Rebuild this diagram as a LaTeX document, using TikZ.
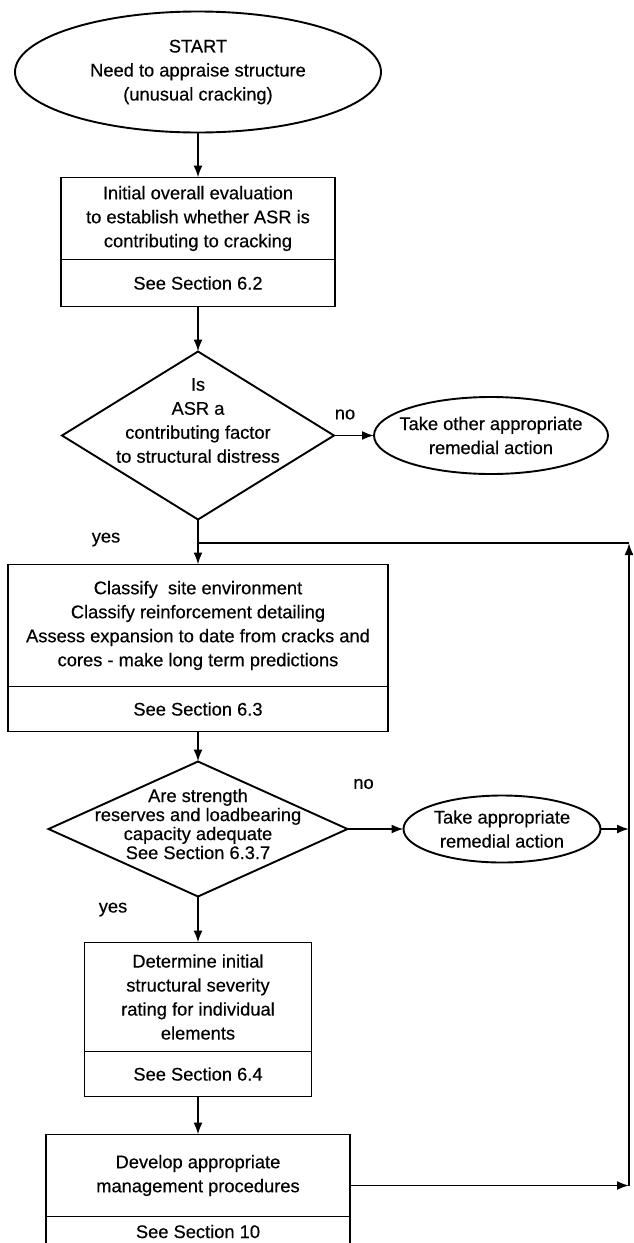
\documentclass[tikz,border=0pt]{standalone}
\usepackage{fontspec}
\setmainfont{Liberation Sans}[FakeBold=0.4]
\usetikzlibrary{arrows.meta,shapes,positioning}

\begin{document}
\begin{tikzpicture}[
    x=1pt, y=1pt,
    >={Latex[length=12pt,width=9pt]},
    line width=1.9pt,
    node distance=45pt,
    font=\fontsize{18.3}{24}\selectfont,
    align=center
  ]

  \tikzstyle{decision} = [diamond, draw, inner sep=0, outer sep=0]
  \tikzstyle{dtext} = [inner sep=0]
  \tikzstyle{block} = [rectangle, draw, inner sep=3pt, outer sep=0]
  \tikzstyle{sect} = [rectangle, draw, inner sep=2pt, outer sep=0]
  \tikzstyle{cloud} = [draw, ellipse, inner sep=-15pt, outer sep=0]
  \tikzstyle{lbl} = [inner sep=0]

  \useasboundingbox (0,0) rectangle (634,-1243);

  \node [cloud, minimum width=366pt, minimum height=121pt] (start) at (198,-72) {START\\Need to appraise structure\\(unusual cracking)};

  \node [block, below=of start, minimum width=274pt, minimum height=82pt] (box1) {Initial overall evaluation\\to establish whether ASR is\\contributing to cracking};
  \node [sect, below=0pt of box1, minimum width=274pt, minimum height=47pt] (box1s) {See Section 6.2};

  \node [decision, below=of box1s, minimum width=272pt, minimum height=168pt] (dec1) {};
  \node [dtext] (dec1txt) at ([yshift=15pt]dec1.center) {Is\\ASR a\\contributing factor\\to structural distress};
  \node [cloud, right=40pt of dec1, minimum width=234pt, minimum height=77pt] (ell2) {Take other appropriate\\remedial action};

  \path[->] (start.south) edge (box1.north);
  \path[->] (box1s.south) edge (dec1.north);
  \path[->] (dec1.east) edge (ell2.west);
  \node [lbl] (no1) at ([xshift=11pt,yshift=21pt]dec1.east) {no};

  \node [block, below=of dec1, minimum width=380pt, minimum height=122pt] (box3) {Classify\ \ site environment\\Classify reinforcement detailing\\Assess expansion to date from cracks and\\cores - make long term predictions};
  \node [sect, below=0pt of box3, minimum width=380pt, minimum height=45pt] (box3s) {See Section 6.3};
  \node [lbl] (yes1) at ([xshift=-92pt,yshift=-20pt]dec1.south) {yes};

  \path[->] (dec1.south) edge (box3.north);

  \node [decision, below=30pt of box3s, minimum width=299pt, minimum height=135pt] (dec2) {};
  \node [dtext, font=\fontsize{18.3}{19}\selectfont] (dec2txt) at ([yshift=5pt]dec2.center) {Are strength\\reserves and loadbearing\\capacity adequate\\See Section 6.3.7};
  \node [cloud, right=56pt of dec2, minimum width=197pt, minimum height=67pt] (ell3) {Take appropriate\\remedial action};

  \path[->] (box3s.south) edge (dec2.north);
  \path[->] (dec2.east) edge (ell3.west);
  \node [lbl] (no2) at ([xshift=16pt,yshift=45pt]dec2.east) {no};
  \node [lbl] (yes2) at ([xshift=-85pt,yshift=-13pt]dec2.south) {yes};

  \node [block, below=46pt of dec2, minimum width=227pt, minimum height=109pt] (box5) {Determine initial\\structural severity\\rating for individual\\elements};
  \node [sect, below=0pt of box5, minimum width=227pt, minimum height=45pt] (box5s) {See Section 6.4};

  \node [block, below=38pt of box5s, minimum width=304pt, minimum height=82pt] (box6) {Develop appropriate\\management procedures};
  \node [sect, below=0pt of box6, minimum width=304pt, minimum height=30pt] (box6s) {See Section 10};

  \path[->] (dec2.south) edge (box5.north);
  \path[->] (box5s.south) edge (box6.north);

  % feedback line on the right
  \coordinate [below=23.5pt of dec1.south] (join);
  \coordinate (loop) at ([xshift=431pt]join);
  \draw[->] (ell3.east) -- (ell3.east -| loop);
  \draw[->] ([yshift=-10pt]box6.east) -- ([yshift=-10pt]box6.east -| loop);
  \draw[->] ([yshift=-10pt]box6.east -| loop) -- (loop);
  \draw (loop) -- (join);

\end{tikzpicture}
\end{document}
